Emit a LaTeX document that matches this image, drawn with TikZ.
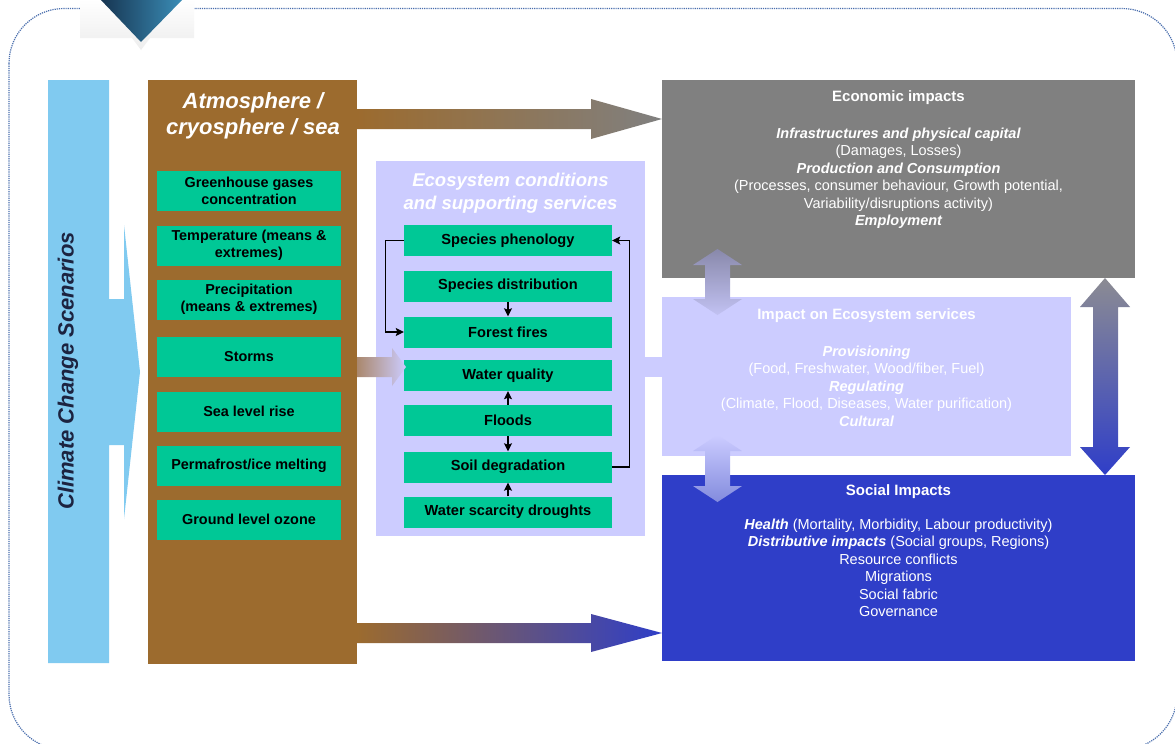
\documentclass[tikz,border=0pt]{standalone}
\usepackage{fontspec}
\setmainfont{Liberation Sans}
\usetikzlibrary{arrows.meta}
\definecolor{skyblue}{HTML}{80CAF0}
\definecolor{atmobrown}{HTML}{9C6B2E}
\definecolor{boxgreen}{HTML}{00C896}
\definecolor{lavender}{HTML}{CCCCFF}
\definecolor{econgray}{HTML}{808080}
\definecolor{socialblue}{HTML}{2F3EC8}
\definecolor{framedot}{HTML}{4A6FAE}
\definecolor{navydark}{HTML}{163450}
\definecolor{navylight}{HTML}{3B8EB8}
\definecolor{scentext}{HTML}{1C2340}
\tikzset{
  panel/.style={inner sep=0pt,outer sep=0pt},
  varbox/.style={fill=boxgreen,minimum width=184,minimum height=40,inner sep=1pt,align=center,font=\fontsize{14.4}{17}\selectfont\bfseries},
  ecobox/.style={fill=boxgreen,minimum width=208,minimum height=31,inner sep=1pt,font=\fontsize{14.6}{17}\selectfont\bfseries},
  lnk/.style={->,line width=1.2pt,black},
  impacttext/.style={text=white,align=center,inner sep=0pt,anchor=north,font=\fontsize{14.5}{17.4}\selectfont},
}
\begin{document}
\begin{tikzpicture}[x=1pt,y=-1pt,>={Stealth[length=8pt,width=8pt,inset=1.5pt]}]
\fill[white] (0,0) rectangle (1175,744);
\clip (0,0) rectangle (1175,744);
\draw[framedot,densely dotted,line width=1.2pt,rounded corners=55] (9,8.5) rectangle (1177,749.5);
\shade[top color=white,bottom color=black!7] (80,-1) -- (194,-1) -- (194,38) -- (150,38) -- (141,50) -- (132,38) -- (80,38) -- cycle;
\shade[left color=navydark,right color=navylight] (100,-1) -- (183,-1) -- (141,42) -- cycle;

\fill[skyblue] (48,80) -- (109,80) -- (109,299) -- (124,299) -- (124,225) -- (140,372) -- (124,519) -- (124,445) -- (109,445) -- (109,663) -- (48,663) -- cycle;
\node[rotate=90,text=scentext,font=\fontsize{22}{26}\selectfont\bfseries\itshape] (scen) at (68,371) {Climate Change Scenarios};

\node[panel,fill=atmobrown,minimum width=209,minimum height=584] (atmo) at (252.5,372) {};
\node[text=white,align=center,font=\fontsize{22}{26}\selectfont\bfseries\itshape] (atmotitle) at (253,116) {Atmosphere /\\cryosphere / sea};
\node[varbox] (ghg) at (249,190.5) {Greenhouse gases\\concentration};
\node[varbox] (temp) at (249,245.5) {Temperature (means \&\\extremes)};
\node[varbox] (prec) at (249,299.5) {Precipitation\\(means \& extremes)};
\node[varbox] (storm) at (249,357) {Storms};
\node[varbox] (slr) at (249,411.5) {Sea level rise};
\node[varbox] (perma) at (249,466) {Permafrost/ice melting};
\node[varbox] (ozone) at (249,519.5) {Ground level ozone};

\node[panel,fill=econgray,minimum width=473,minimum height=198] (econ) at (898.5,179) {};
\node[panel,fill=lavender,minimum width=409,minimum height=159] (esi) at (866.5,376.5) {};
\node[panel,fill=socialblue,minimum width=473,minimum height=186] (soc) at (898.5,568) {};

\node[panel,fill=lavender,minimum width=269,minimum height=375] (eco) at (510.5,348.5) {};
\node[text=white,align=center,font=\fontsize{18.5}{23}\selectfont\bfseries\itshape] (ecotitle) at (510.5,193.5) {Ecosystem conditions\\and supporting services};
\node[ecobox] (phen) at (508,240.5) {Species phenology};
\node[ecobox] (sdist) at (508,286) {Species distribution};
\node[ecobox] (fire) at (508,332) {Forest fires};
\node[ecobox] (wq) at (508,375.5) {Water quality};
\node[ecobox] (flood) at (508,420.5) {Floods};
\node[ecobox] (soil) at (508,467) {Soil degradation};
\node[ecobox] (drought) at (508,512) {Water scarcity droughts};

\draw[lnk] (sdist) -- (fire);
\draw[lnk] (flood) -- (wq);
\draw[lnk] (flood) -- (soil);
\draw[lnk] (drought) -- (soil);
\draw[lnk] (phen.west) -- ++(-18,0) |- (fire.west);
\draw[lnk] (soil.east) -- ++(17,0) |- (phen.east);

\shade[left color=atmobrown,right color=econgray] (atmo.east |- 0,109) -- (591,109) -- (591,99) -- (econ.west |- 0,119) -- (591,139) -- (591,129) -- (atmo.east |- 0,129) -- cycle;
\shade[left color=atmobrown,right color=socialblue] (atmo.east |- 0,623) -- (591,623) -- (591,614) -- (soc.west |- 0,633) -- (591,652) -- (591,643) -- (atmo.east |- 0,643) -- cycle;
\shade[left color=atmobrown!70!lavender,right color=lavender] (atmo.east |- 0,357) -- (392,357) -- (392,348) -- (406,367) -- (392,386) -- (392,377) -- (atmo.east |- 0,377) -- cycle;
\fill[lavender] (eco.east |- 0,357) rectangle (esi.west |- 0,377);

\shade[top color=econgray!85!lavender,bottom color=socialblue] (econ.south -| 1105,0) -- (1130,307) -- (1118,307) -- (1118,447) -- (1130,447) -- (soc.north -| 1105,0) -- (1080,447) -- (1093,447) -- (1093,307) -- (1080,307) -- cycle;
\shade[top color=black!33!lavender,bottom color=lavender!95!black] (717.5,249) -- (742,265) -- (730,265) -- (730,299) -- (742,299) -- (717.5,315) -- (693,299) -- (705,299) -- (705,265) -- (693,265) -- cycle;
\shade[top color=lavender,bottom color=socialblue!60!white] (717.5,435) -- (742,451) -- (730,451) -- (730,486) -- (742,486) -- (717.5,502) -- (693,486) -- (705,486) -- (705,451) -- (693,451) -- cycle;

\node[impacttext] (econtext) at (898.5,90.5) {{\fontsize{15}{18}\selectfont\bfseries Economic impacts}\\[19.6pt]
{\bfseries\itshape Infrastructures and physical capital}\\
(Damages, Losses)\\
{\bfseries\itshape Production and Consumption}\\
(Processes, consumer behaviour, Growth potential,\\
Variability/disruptions activity)\\
{\bfseries\itshape Employment}};
\node[impacttext] (esitext) at (866.5,308.5) {{\fontsize{15}{18}\selectfont\bfseries Impact on Ecosystem services}\\[19.6pt]
{\bfseries\itshape Provisioning}\\
(Food, Freshwater, Wood/fiber, Fuel)\\
{\bfseries\itshape Regulating}\\
(Climate, Flood, Diseases, Water purification)\\
{\bfseries\itshape Cultural}};
\node[impacttext] (soctext) at (898.5,484.5) {{\fontsize{15}{18}\selectfont\bfseries Social Impacts}\\[16.6pt]
{\bfseries\itshape Health} (Mortality, Morbidity, Labour productivity)\\
{\bfseries\itshape Distributive impacts} (Social groups, Regions)\\
Resource conflicts\\
Migrations\\
Social fabric\\
Governance};
\end{tikzpicture}
\end{document}
